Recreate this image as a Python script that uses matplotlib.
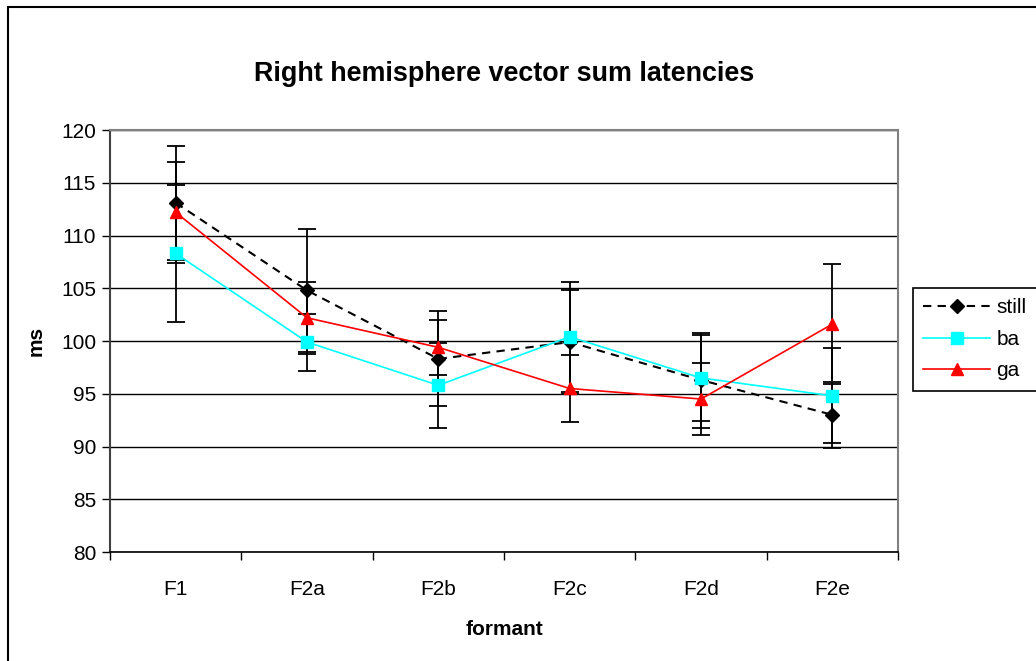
import numpy as np
import matplotlib.pyplot as plt
from matplotlib.patches import Rectangle

plt.rcParams['font.family'] = ['Liberation Sans', 'DejaVu Sans']

formants = ['F1', 'F2a', 'F2b', 'F2c', 'F2d', 'F2e']

still = [113.1, 104.8, 98.3, 99.9, 96.3, 93.0]
still_err = [5.4, 5.8, 4.5, 4.9, 4.5, 3.1]
ba = [108.3, 99.9, 95.8, 100.4, 96.5, 94.8]
ba_err = [6.5, 2.7, 4.0, 5.2, 4.1, 4.5]
ga = [112.2, 102.2, 99.4, 95.5, 94.5, 101.6]
ga_err = [4.8, 3.4, 2.6, 3.2, 3.4, 5.7]

fig = plt.figure(figsize=(10.36, 6.61), dpi=100)
ax = fig.add_axes([0.1062, 0.1649, 0.7606, 0.6384])

x = np.arange(len(formants))

# error bars first, markers and lines on top
for vals, errs in [(still, still_err), (ba, ba_err), (ga, ga_err)]:
    ax.errorbar(x, vals, yerr=errs, fmt='none', ecolor='black', elinewidth=1.3,
                capsize=6.5, capthick=1.3, zorder=3)

ax.plot(x, still, color='black', linestyle=(0, (4, 3)), linewidth=1.5,
        marker='D', markersize=7, markerfacecolor='black', markeredgecolor='black',
        label='still', zorder=4)
ax.plot(x, ba, color='#00FFFF', linewidth=1.2, marker='s', markersize=8,
        markerfacecolor='#00FFFF', markeredgecolor='#00FFFF', label='ba', zorder=5)
ax.plot(x, ga, color='#FF0000', linewidth=1.2, marker='^', markersize=9,
        markerfacecolor='#FF0000', markeredgecolor='#FF0000', label='ga', zorder=6)

ax.set_xlim(-0.5, len(formants) - 0.5)
ax.set_ylim(80, 120)
ax.set_yticks(np.arange(80, 121, 5))
ax.set_xticks(x)
ax.set_xticklabels(formants)
ax.set_xticks(np.arange(-0.5, len(formants)), minor=True)
ax.tick_params(axis='x', which='major', length=0, labelsize=15, pad=20)
ax.tick_params(axis='x', which='minor', length=6, width=1, color='black')
ax.tick_params(axis='y', length=6, width=1, labelsize=15, pad=4)

ax.yaxis.grid(True, color='black', linewidth=1)
ax.set_axisbelow(True)

for side in ['top', 'right']:
    ax.spines[side].set_color('#808080')
    ax.spines[side].set_linewidth(1.5)
ax.spines['left'].set_color('#404040')
ax.spines['left'].set_linewidth(1.5)
ax.spines['bottom'].set_color('black')
ax.spines['bottom'].set_linewidth(1.2)

ax.set_title('Right hemisphere vector sum latencies', fontsize=19.4, fontweight='bold', pad=35)
ax.set_xlabel('formant', fontsize=15, fontweight='bold', labelpad=15)
ax.set_ylabel('ms', fontsize=15, fontweight='bold', labelpad=11)

leg = ax.legend(loc='upper left', bbox_to_anchor=(913 / 1036, 1 - 288 / 661),
                bbox_transform=fig.transFigure, borderaxespad=0, fontsize=15,
                fancybox=False, framealpha=1, edgecolor='black', handlelength=3.2,
                handletextpad=0.3, borderpad=0.5, labelspacing=0.6)
leg.get_frame().set_linewidth(1.2)

# outer chart border
fig.patches.append(Rectangle((8 / 1036, -0.05), 1.2, 1 - 7 / 661 + 0.05,
                             transform=fig.transFigure, fill=False,
                             edgecolor='black', linewidth=1.5))

fig.savefig('out.png', dpi=100)
